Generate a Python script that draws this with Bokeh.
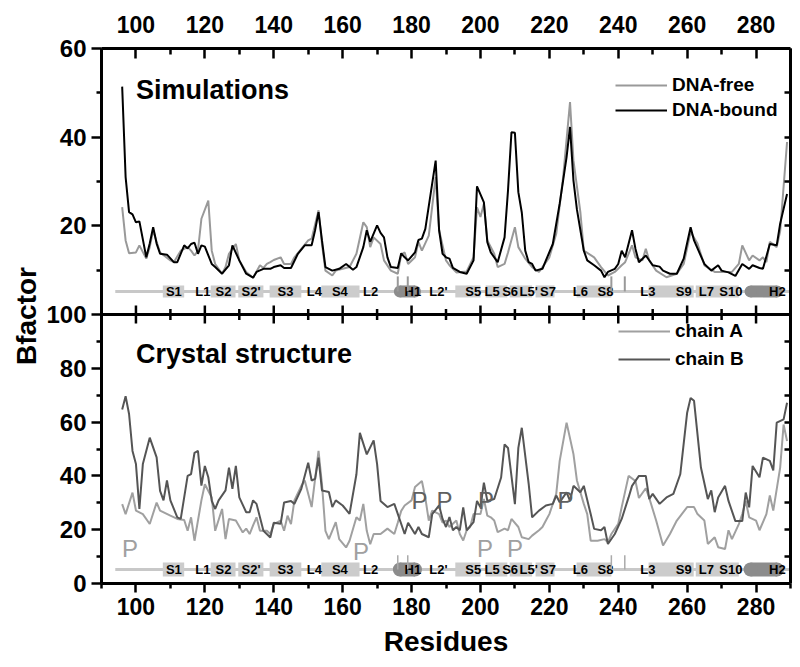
from bokeh.plotting import figure
from bokeh.models import (Range1d, FixedTicker, Legend, LegendItem, Label, LinearAxis,
                          CustomJSTickFormatter, Span, Title)
from bokeh.core.properties import value
from bokeh.embed import file_html
from bokeh.resources import INLINE

FONT = "Liberation Sans"

# ---------------- data ----------------
free_x = [96, 97, 98, 100, 101, 103, 104, 105, 106, 107, 110, 111, 113, 115, 116, 117, 118, 119, 121, 122,
          123, 125, 126, 127, 129, 130, 132, 134, 136, 137, 138, 139, 140, 142, 143, 145, 146, 148, 150, 151,
          153, 154, 155, 157, 158, 160, 162, 164, 166, 167, 168, 169, 171, 172, 174, 176, 177, 178, 179, 181,
          182, 183, 185, 187, 188, 190, 191, 193, 196, 198, 199, 200, 201, 202, 204, 205, 207, 208, 210, 211,
          213, 215, 217, 218, 220, 222, 224, 226, 227, 229, 230, 233, 235, 237, 239, 241, 242, 244, 245, 247,
          248, 249, 251, 254, 257, 259, 261, 263, 265, 268, 271, 273, 275, 276, 278, 279, 281, 282, 283, 284,
          286, 287, 289]
free_y = [24.2, 16.7, 13.8, 14.0, 15.6, 12.6, 15.2, 19.0, 16.4, 14.0, 12.2, 11.8, 14.4, 15.2, 14.4, 13.3, 14.4, 21.6, 25.7, 14.4,
          11.4, 9.2, 10.7, 13.7, 15.9, 12.2, 9.6, 8.3, 11.1, 10.5, 11.4, 11.8, 12.3, 12.9, 11.4, 11.4, 12.9, 14.8, 16.7, 17.1,
          23.5, 15.9, 9.9, 8.8, 9.9, 10.3, 10.7, 13.7, 20.8, 19.7, 15.2, 17.4, 15.9, 12.2, 9.9, 9.2, 13.5, 14.0, 11.4, 12.9,
          16.4, 14.4, 17.8, 31.0, 19.0, 12.2, 11.1, 9.5, 9.7, 12.9, 24.2, 22.0, 25.0, 16.7, 13.7, 10.7, 11.4, 14.0, 19.7, 15.2,
          12.6, 10.7, 9.6, 10.7, 12.9, 18.2, 31.0, 47.9, 34.7, 23.1, 14.4, 12.9, 10.7, 8.8, 9.6, 11.1, 11.8, 15.6, 12.9, 12.2,
          14.8, 12.2, 9.9, 8.4, 9.2, 11.4, 18.6, 16.0, 11.1, 9.6, 9.6, 9.6, 11.4, 15.6, 12.2, 13.3, 12.2, 12.9, 11.8, 16.4,
          15.2, 18.8, 38.9]

bound_x = [96, 97, 98, 99, 100, 101, 103, 104, 105, 106, 107, 109, 111, 112, 114, 115, 116, 117, 118, 119,
           120, 122, 123, 125, 127, 128, 130, 132, 134, 135, 137, 139, 140, 142, 143, 145, 147, 149, 151, 152,
           153, 154, 155, 157, 159, 161, 163, 164, 166, 167, 168, 170, 171, 172, 173, 174, 176, 177, 178, 179,
           181, 182, 183, 184, 187, 188, 189, 190, 191, 192, 194, 196, 198, 199, 201, 202, 203, 205, 207, 208,
           209, 210, 211, 212, 213, 214, 215, 216, 218, 219, 221, 223, 225, 226, 227, 228, 230, 231, 233, 235,
           236, 237, 239, 240, 241, 242, 244, 245, 246, 248, 250, 252, 253, 255, 257, 259, 261, 262, 265, 267,
           269, 270, 272, 274, 276, 278, 279, 281, 282, 284, 286, 287, 289]
bound_y = [51.4, 31.0, 23.1, 22.6, 20.8, 21.0, 12.9, 16.0, 19.7, 16.0, 13.7, 13.5, 11.8, 11.8, 15.6, 14.9, 15.9, 16.2, 13.7, 15.6,
           15.3, 11.4, 10.7, 9.2, 11.1, 15.6, 12.2, 9.2, 8.3, 9.6, 10.3, 10.3, 10.7, 11.1, 10.5, 10.5, 13.7, 15.6, 15.6, 19.0,
           23.1, 16.7, 10.7, 9.9, 10.3, 11.4, 10.1, 10.7, 15.2, 19.0, 16.4, 20.1, 18.4, 17.4, 12.9, 10.7, 10.5, 13.8, 12.9, 12.2,
           14.0, 16.8, 17.1, 19.3, 34.7, 19.0, 13.7, 12.9, 12.6, 10.5, 9.6, 9.2, 12.2, 28.9, 25.3, 16.3, 14.0, 11.8, 17.4, 28.0,
           41.1, 41.0, 27.6, 23.0, 14.4, 11.8, 11.4, 9.9, 10.3, 12.2, 15.9, 25.0, 35.5, 42.3, 30.2, 23.7, 14.4, 12.2, 11.1, 9.9,
           8.4, 9.6, 10.3, 11.4, 14.4, 12.9, 19.0, 14.8, 11.8, 13.3, 11.1, 10.8, 9.9, 9.2, 9.2, 12.6, 19.7, 16.7, 11.4, 9.9,
           11.1, 9.9, 9.5, 8.7, 11.4, 10.3, 11.1, 10.5, 10.3, 15.9, 15.6, 20.5, 27.2]

chainA_x = [96, 97, 99, 100, 102, 104, 106, 107, 110, 112, 114, 115, 116, 117, 119, 120, 122, 123, 125, 126,
            127, 129, 131, 132, 133, 134, 135, 136, 138, 139, 140, 142, 143, 144, 145, 146, 148, 149, 151, 153,
            154, 155, 156, 158, 159, 161, 162, 164, 165, 166, 167, 168, 169, 171, 173, 175, 176, 177, 178, 180,
            181, 183, 184, 185, 186, 188, 189, 190, 191, 193, 194, 195, 196, 197, 198, 200, 201, 202, 203, 204,
            205, 207, 208, 209, 211, 212, 214, 215, 217, 218, 219, 220, 222, 223, 225, 227, 228, 230, 231, 232,
            234, 236, 237, 238, 240, 241, 243, 245, 246, 248, 249, 251, 253, 255, 257, 260, 262, 263, 265, 266,
            268, 269, 271, 272, 273, 275, 276, 277, 278, 280, 281, 283, 284, 285, 287, 288, 289]
chainA_y = [29.5, 25.8, 33.8, 27.1, 25.8, 22.1, 30.1, 27.1, 25.2, 24.0, 23.6, 19.6, 24.6, 15.9, 30.9, 36.9, 32.0, 19.6, 27.7, 16.5,
            24.0, 23.4, 19.0, 20.4, 18.4, 21.6, 24.6, 19.6, 19.6, 18.4, 22.1, 23.4, 19.6, 25.2, 22.1, 30.9, 36.3, 38.3, 28.4, 49.3,
            36.9, 19.6, 16.5, 22.8, 16.5, 13.4, 15.9, 24.6, 23.4, 29.6, 19.6, 14.6, 18.4, 18.4, 20.4, 18.4, 22.6, 27.0, 29.0, 30.9,
            35.9, 38.1, 31.8, 23.4, 27.1, 25.8, 22.6, 23.4, 21.0, 23.4, 18.4, 16.0, 19.8, 21.0, 25.8, 25.8, 31.4, 25.2, 24.6, 23.4,
            19.1, 20.4, 19.8, 24.0, 21.0, 17.2, 16.5, 17.8, 19.8, 21.0, 23.4, 25.8, 33.3, 45.6, 59.8, 48.1, 38.3, 29.6, 25.8, 15.9,
            15.9, 16.5, 15.3, 18.4, 22.2, 28.4, 40.0, 38.1, 31.8, 35.4, 31.8, 23.4, 14.1, 18.4, 23.4, 28.4, 28.4, 25.8, 23.4, 14.7,
            17.2, 13.5, 12.8, 19.8, 16.5, 22.1, 25.8, 30.7, 24.6, 23.4, 19.8, 25.8, 32.7, 27.1, 43.1, 59.1, 53.0]

chainB_x = [96, 97, 98, 99, 100, 101, 102, 104, 106, 107, 108, 109, 110, 112, 113, 115, 116, 117, 118, 119,
            120, 121, 122, 123, 124, 126, 127, 128, 129, 130, 132, 133, 134, 135, 137, 139, 140, 142, 143, 145,
            146, 148, 150, 151, 152, 153, 154, 156, 157, 158, 160, 162, 164, 165, 167, 169, 170, 171, 173, 175,
            176, 178, 179, 181, 182, 183, 185, 186, 188, 189, 190, 191, 192, 193, 194, 195, 196, 198, 199, 200,
            201, 202, 204, 206, 207, 208, 210, 211, 212, 214, 215, 217, 219, 221, 222, 223, 225, 226, 227, 229,
            230, 232, 233, 235, 236, 237, 239, 241, 243, 244, 246, 248, 249, 250, 252, 254, 256, 258, 260, 261,
            262, 264, 266, 267, 268, 269, 271, 272, 274, 276, 277, 278, 279, 281, 282, 284, 285, 286, 288, 289]
chainB_y = [64.7, 69.6, 63.0, 49.3, 44.4, 27.7, 44.4, 54.2, 46.9, 34.4, 30.9, 38.3, 30.9, 24.6, 24.0, 40.0, 40.7, 48.6, 49.3, 36.4,
            43.7, 39.5, 30.7, 27.7, 30.9, 34.6, 43.1, 35.2, 43.7, 32.0, 26.5, 26.5, 30.9, 29.6, 19.6, 17.1, 22.6, 22.2, 30.1, 30.7,
            29.6, 35.2, 44.9, 38.3, 38.9, 46.8, 34.6, 34.0, 28.4, 30.9, 29.0, 25.9, 40.6, 56.0, 48.0, 53.2, 44.4, 30.7, 28.4, 29.6,
            25.9, 18.4, 22.6, 18.4, 21.0, 18.4, 17.2, 25.8, 29.0, 24.0, 21.0, 24.7, 19.8, 21.0, 19.8, 28.3, 19.8, 22.8, 30.7, 28.3,
            37.5, 30.7, 31.4, 39.4, 51.7, 50.4, 29.5, 50.4, 57.9, 37.0, 24.6, 27.1, 29.0, 29.6, 32.7, 30.2, 33.9, 30.7, 36.3, 33.9,
            36.3, 25.8, 20.3, 19.8, 21.0, 14.7, 18.4, 24.0, 32.0, 36.3, 40.0, 40.0, 31.4, 33.3, 29.6, 32.0, 33.3, 40.6, 63.5, 69.0,
            67.9, 43.1, 31.4, 34.6, 26.5, 32.0, 36.3, 30.7, 23.2, 23.2, 33.8, 28.3, 43.7, 39.5, 46.8, 45.6, 42.0, 59.8, 61.0, 67.2]

# secondary-structure map
ss_line = [94, 290]
sheet_start = [107.8, 121.7, 129.7, 138.8, 153.8, 192.7, 201.5, 208.5, 216.0, 227.9, 248.8, 262.5]
sheet_end = [114.0, 128.9, 137.0, 148.0, 164.9, 200.0, 207.8, 215.0, 221.5, 238.0, 261.9, 275.0]
helix_start = [176.6, 278.4]
helix_end = [181.0, 286.1]
ss_labels = ["S1", "L1", "S2", "S2'", "S3", "L4", "S4", "L2", "H1", "L2'", "S5", "L5", "S6", "L5'", "S7",
             "L6", "S8", "L3", "S9", "L7", "S10", "H2"]
ss_label_x = [111.0, 119.4, 125.4, 133.4, 143.4, 151.8, 159.2, 168.1, 180.4, 187.8, 197.9, 203.4, 208.6, 214.0, 219.6,
              229.0, 236.3, 248.6, 259.0, 265.6, 272.7, 286.2]
mark_x = [176.0, 178.9, 238.0, 241.9]

# "P" annotations in the crystal panel
pA_x = [98.3, 165.3, 201.3, 210.0]
pA_y = [13.0, 12.0, 13.0, 13.0]
pB_x = [182.3, 189.6, 201.6, 224.7]
pB_y = [30.7, 30.7, 30.7, 30.7]

x_ticks = [100, 120, 140, 160, 180, 200, 220, 240, 260, 280]
x_minor = [90, 110, 130, 150, 170, 190, 210, 230, 250, 270, 290]
top_ticks = [20, 40, 60]
top_minor = [10, 30, 50]
bot_ticks = [0, 20, 40, 60, 80, 100]
bot_minor = [10, 30, 50, 70, 90]

# ---------------- geometry ----------------
TOP_H, BOT_H = 266, 269            # pixel heights of the two panels
FRAME_H = TOP_H + BOT_H
Y_END = 100.0 * FRAME_H / BOT_H    # main (bottom-panel) range end
TOP_START = -60.0 * BOT_H / TOP_H  # top-panel range start, so that its 0 sits on the divider


def top_to_main(v):
    return (v - TOP_START) / (60.0 - TOP_START) * Y_END


p = figure(width=795, height=48 + FRAME_H + 76, x_range=Range1d(90, 290), y_range=Range1d(0, Y_END),
           extra_y_ranges={"top": Range1d(TOP_START, 60)}, output_backend="svg", toolbar_location=None,
           min_border_left=101, min_border_right=5, min_border_top=48, min_border_bottom=76)
p.grid.visible = False
p.outline_line_color = None


def base_axis(ax):
    ax.axis_line_width = 3
    ax.axis_line_color = "black"
    ax.major_tick_line_width = 2.5
    ax.minor_tick_line_width = 2.5
    ax.major_tick_line_color = "black"
    ax.minor_tick_line_color = "black"
    ax.major_label_text_font = FONT
    ax.major_label_text_font_style = "bold"
    ax.major_label_text_color = "black"


def hide_labels(ax):
    ax.formatter = CustomJSTickFormatter(code="return '';")
    ax.major_label_text_font_size = "1px"
    ax.major_label_standoff = 0


# bottom x axis
xb = p.xaxis[0]
base_axis(xb)
xb.ticker = FixedTicker(ticks=x_ticks, minor_ticks=x_minor)
xb.major_tick_in, xb.major_tick_out = 0, 9
xb.minor_tick_in, xb.minor_tick_out = 0, 5
xb.major_label_text_font_size = "23px"
xb.major_label_standoff = 5
xb.axis_label = "Residues"
xb.axis_label_text_font = FONT
xb.axis_label_text_font_style = "bold"
xb.axis_label_text_font_size = "28px"
xb.axis_label_text_color = "black"
xb.axis_label_standoff = 8

# top x axis
xt = LinearAxis()
base_axis(xt)
xt.ticker = FixedTicker(ticks=x_ticks, minor_ticks=x_minor)
xt.major_tick_in, xt.major_tick_out = 10, 0
xt.minor_tick_in, xt.minor_tick_out = 6, 0
xt.major_label_text_font_size = "23px"
xt.major_label_standoff = 16
p.add_layout(xt, "above")

# left y axis (shared by both panels)
yl = p.yaxis[0]
base_axis(yl)
left_major = [float(t) for t in bot_ticks] + [top_to_main(t) for t in top_ticks]
left_minor = [float(t) for t in bot_minor] + [top_to_main(t) for t in top_minor]
left_text = [str(t) for t in bot_ticks] + [str(t) for t in top_ticks]
yl.ticker = FixedTicker(ticks=left_major, minor_ticks=left_minor)
yl.major_label_overrides = {pos: txt for pos, txt in zip(left_major, left_text)}
yl.major_tick_in, yl.major_tick_out = 0, 10
yl.minor_tick_in, yl.minor_tick_out = 0, 5
yl.major_label_text_font_size = "24px"
yl.major_label_standoff = 5

# right y axis
yr = LinearAxis()
base_axis(yr)
right_ticks = [float(t) for t in range(10, 100, 10)] + [top_to_main(t) for t in range(10, 60, 10)]
yr.ticker = FixedTicker(ticks=right_ticks, minor_ticks=[])
yr.major_tick_in, yr.major_tick_out = 6, 0
hide_labels(yr)
p.add_layout(yr, "right")

# y title, shared by both panels
p.add_layout(Title(text="Bfactor", align="center", offset=16, standoff=4, text_font=FONT,
                   text_font_style="bold", text_font_size="28px", text_color="black"), "left")

# divider between the panels, with ticks crossing it
p.add_layout(Span(location=100, dimension="width", line_color="black", line_width=3))
p.scatter(x=x_ticks, y=[100] * len(x_ticks), marker="dash", angle=90, angle_units="deg", size=18,
          line_color="black", line_width=2.5)
p.scatter(x=x_minor, y=[100] * len(x_minor), marker="dash", angle=90, angle_units="deg", size=11,
          line_color="black", line_width=2.5)


def add_ss(yc, h, rng):
    p.line(x=ss_line, y=[yc, yc], line_color="#c8c8c8", line_width=3, y_range_name=rng)
    mids = [(a + b) / 2 for a, b in zip(sheet_start, sheet_end)]
    wids = [b - a for a, b in zip(sheet_start, sheet_end)]
    p.rect(x=mids, y=[yc] * len(mids), width=wids, height=h, height_units="screen",
           fill_color="#cccccc", line_color=None, y_range_name=rng)
    hm = [(a + b) / 2 for a, b in zip(helix_start, helix_end)]
    hw = [b - a for a, b in zip(helix_start, helix_end)]
    p.rect(x=hm, y=[yc] * len(hm), width=hw, height=h, height_units="screen",
           fill_color="#8c8c8c", line_color=None, y_range_name=rng)
    caps = helix_start + helix_end
    p.scatter(x=caps, y=[yc] * len(caps), size=h, marker="circle", fill_color="#8c8c8c",
              line_color=None, y_range_name=rng)
    p.text(x=ss_label_x, y=[yc] * len(ss_label_x), text=ss_labels, text_font=value(FONT),
           text_font_style="bold", text_font_size="13px", text_align="center", text_baseline="middle",
           text_color="black", y_range_name=rng)


def legend_at(items, loc, spacing):
    lg = Legend(items=items, location=loc, border_line_color=None, background_fill_alpha=0,
                padding=0, margin=0, spacing=spacing, glyph_width=52, glyph_height=20,
                label_height=20, label_standoff=5, label_text_font=FONT, label_text_font_style="bold",
                label_text_font_size="19px", label_text_color="black")
    p.add_layout(lg)


# ---------------- top panel (simulations) ----------------
add_ss(5.2, 12, "top")
p.segment(x0=mark_x, y0=[5.2] * 4, x1=mark_x, y1=[8.6] * 4, line_color="#999999", line_width=2,
          y_range_name="top")
r_free = p.line(free_x, free_y, line_color="#999999", line_width=2, y_range_name="top")
r_bound = p.line(bound_x, bound_y, line_color="black", line_width=2, y_range_name="top")
p.add_layout(Label(x=100, y=50.7, y_range_name="top", text="Simulations", text_font=FONT,
                   text_font_style="bold", text_font_size="27px", text_baseline="alphabetic",
                   text_color="black"))
legend_at([LegendItem(label="DNA-free", renderers=[r_free]),
           LegendItem(label="DNA-bound", renderers=[r_bound])], (514, 193 + BOT_H), 3)

# ---------------- bottom panel (crystal structure) ----------------
add_ss(5.2, 14, "default")
p.segment(x0=mark_x, y0=[5.2] * 4, x1=mark_x, y1=[10.5] * 4, line_color="#aaaaaa", line_width=1.5)
r_a = p.line(chainA_x, chainA_y, line_color="#a0a0a0", line_width=2)
r_b = p.line(chainB_x, chainB_y, line_color="#555555", line_width=2)
p.text(x=pA_x, y=pA_y, text=["P"] * len(pA_x), text_font=value(FONT), text_font_size="24px",
       text_align="center", text_baseline="middle", text_color="#a0a0a0")
p.text(x=pB_x, y=pB_y, text=["P"] * len(pB_x), text_font=value(FONT), text_font_size="24px",
       text_align="center", text_baseline="middle", text_color="#606060")
p.add_layout(Label(x=100, y=85.5, text="Crystal structure", text_font=FONT, text_font_style="bold",
                   text_font_size="27px", text_baseline="alphabetic", text_color="black"))
legend_at([LegendItem(label="chain A", renderers=[r_a]),
           LegendItem(label="chain B", renderers=[r_b])], (517, 213), 6)

open("out.html", "w").write(file_html(p, INLINE))
